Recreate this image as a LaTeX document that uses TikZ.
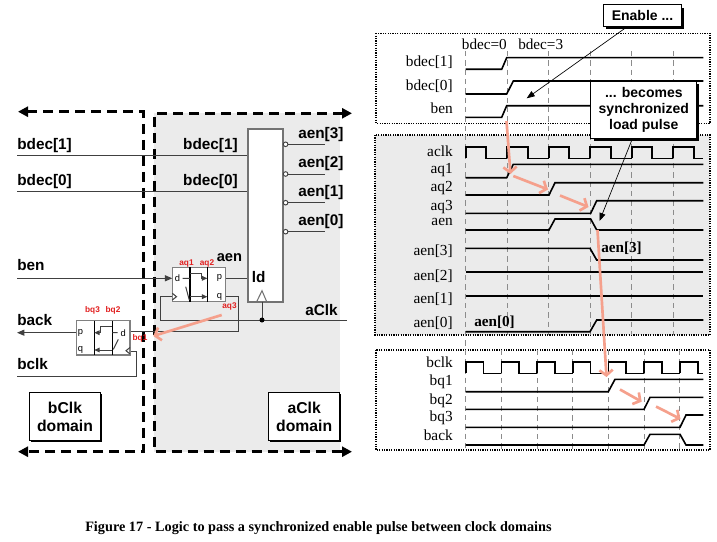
\documentclass[tikz,border=0pt]{standalone}
\usepackage{fontspec}
\setmainfont{Liberation Serif}
\setsansfont{Liberation Sans}
\usetikzlibrary{arrows.meta,shadows}
\definecolor{domgray}{RGB}{235,235,235}
\definecolor{salmon}{RGB}{245,160,140}
\definecolor{ffred}{RGB}{225,30,30}
\begin{document}
\begin{tikzpicture}[x=0.75pt,y=-0.75pt,
  domline/.style={line width=2.2pt,dash pattern=on 7.5pt off 4.5pt,
    {Triangle[length=7.5pt,width=7.5pt]}-{Triangle[length=7.5pt,width=7.5pt]}},
  panel/.style={line width=0.9pt,dash pattern=on 0.9pt off 0.9pt},
  gridln/.style={black!45,line width=0.8pt,dash pattern=on 4pt off 3pt},
  sig/.style={line width=1.2pt},
  wire/.style={line width=0.75pt,black!75},
  tip/.style={-{Triangle[length=4pt,width=3.5pt]}},
  lbl/.style={font=\sffamily\bfseries\fontsize{11.5}{13}\selectfont,inner sep=0pt,anchor=base west},
  tlbl/.style={font=\fontsize{11.5}{13}\selectfont,inner sep=0pt,anchor=base east},
  redlbl/.style={font=\sffamily\bfseries\fontsize{6.2}{7}\selectfont,text=ffred,inner sep=0pt},
  pin/.style={font=\sffamily\fontsize{7}{8}\selectfont,inner sep=0pt},
  hop/.style={salmon,line width=2pt,-{Straight Barb[length=4pt,width=10pt]}},
  ffbox/.style={draw=black!50,line width=0.8pt,fill=white},
  dombox/.style={draw,fill=white,line width=0.8pt,minimum width=53.5pt,minimum height=36pt,
    align=center,font=\sffamily\bfseries\fontsize{11.8}{13.7}\selectfont,
    drop shadow={shadow xshift=1.2pt,shadow yshift=-1.2pt,fill=black,opacity=1}},
  callout/.style={draw,fill=white,line width=0.8pt,align=center,inner sep=0pt,
    font=\sffamily\bfseries\fontsize{10.5}{12}\selectfont,
    drop shadow={shadow xshift=2pt,shadow yshift=-2pt,fill=black,opacity=1}},
  ]
\useasboundingbox (0,0) rectangle (717,542);

\fill[domgray] (154.3,113.3) rectangle (340,451.7);
\draw[domline] (18,111.7) -- (143.3,111.7) -- (143.3,451.7) -- (18,451.7);
\draw[domline] (352,113.3) -- (154.3,113.3) -- (154.3,451.7) -- (352,451.7);

\coordinate (b1in) at (17,155);
\coordinate (b0in) at (17,191.7);
\coordinate (benin) at (17,278.3);
\coordinate (backout) at (17,332.7);
\coordinate (bclkin) at (17,376.7);
\coordinate (b1dec) at (248.3,155);
\coordinate (b0dec) at (248.3,191.7);
\coordinate (ldin) at (248.3,278.3);
\coordinate (ad) at (172.3,278.3);
\coordinate (ap) at (225.7,278.3);
\coordinate (aq) at (225.7,296.7);
\coordinate (ack) at (172.3,296.7);
\coordinate (bd) at (130,331.7);
\coordinate (bp) at (76.7,332.7);
\coordinate (bck) at (130,351.7);
\coordinate (ckdot) at (262,320);

\draw[wire] (b1in) -- (b1dec);
\draw[wire] (b0in) -- (b0dec);
\draw[wire,-{Triangle[length=5.5pt,width=4.5pt]}] (benin) -- (ad);
\draw[wire] (ap) -- (ldin);
\draw[wire] (aq) -- ++(12.6,0) |- (bd);
\draw[wire] (ack) -- ++(-12.3,0) |- (347,320);
\draw[wire,-{Triangle[length=5.5pt,width=4.5pt]}] (bp) -- (backout);
\draw[wire] (bck) -- ++(6.7,0) |- (bclkin);

\draw[draw=black!55,line width=1.3pt,fill=white] (248.3,129.3) rectangle (283.3,301.7);
\draw[black!55,line width=0.8pt] (256.7,301.7) -- (262,290.7) -- (266.7,301.7);
\draw[wire] (262,301.7) -- (ckdot);
\fill (ckdot) circle (2.5);
\foreach \i/\y in {3/144.3,2/174,1/202.7,0/231.7} {
  \draw[black!75,line width=0.7pt,fill=white] (285.6,\y) circle (2.3);
  \draw[wire] (287.9,\y) -- (325,\y);
  \node[lbl] (aen\i) at (298,\y-6.3) {aen[\i]};
}

\draw[ffbox] (172.3,267.3) rectangle (225.7,301.7);
\draw[line width=1pt] (190,267.3) -- (190,301.7) (207.3,267.3) -- (207.3,301.7);
\node[pin] (apind) at (177.5,278.3) {d};
\node[pin] (apinp) at (219.5,278.3) {p};
\node[pin] (apinq) at (219.5,296.7) {q};
\draw[wire] (182.5,278.3) -- (190,278.3) (185.7,286.7) -- (189.3,300);
\draw[wire] (172.3,293.3) -- (176.5,296.7) -- (172.3,300);
\draw[wire,tip] (190,273.3) -- (201.7,273.3) -- (201.7,278.3) -- (207.3,278.3);
\draw[wire,tip] (190,296.7) -- (207.3,296.7);

\draw[ffbox] (76.7,320.7) rectangle (130,355);
\draw[line width=1pt] (94.3,320.7) -- (94.3,355) (112.3,320.7) -- (112.3,355);
\node[pin] (bpinp) at (80.5,332.7) {p};
\node[pin] (bpinq) at (80.5,350) {q};
\node[pin] (bpind) at (123.3,332.7) {d};
\draw[wire] (112.3,332.7) -- (117.5,332.7) (118.3,339.3) -- (113.3,349.3);
\draw[wire] (130,347.5) -- (126,350.7) -- (130,354);
\draw[wire,tip] (112.3,326.7) -- (100,326.7) -- (100,332.7) -- (94.3,332.7);
\draw[wire,tip] (112.3,350) -- (94.3,350);

\node[lbl] (lb1) at (17,149) {bdec[1]};
\node[lbl] (lb0) at (17,185.7) {bdec[0]};
\node[lbl,anchor=base east] (rb1) at (238,149) {bdec[1]};
\node[lbl,anchor=base east] (rb0) at (238,185.7) {bdec[0]};
\node[lbl] (lben) at (17,270.7) {ben};
\node[lbl] (lback) at (17,325) {back};
\node[lbl] (lbclk) at (17,369) {bclk};
\node[lbl,anchor=base east] (laclk) at (338,315) {aClk};
\node[lbl,font=\sffamily\bfseries\fontsize{11}{13}\selectfont] (laen) at (216.5,261.7) {aen};
\node[lbl] (lld) at (251.5,282.3) {ld};
\draw[hop] (221.7,315) -- (153.3,336);
\node[redlbl] (raq1) at (186.5,263.3) {aq1};
\node[redlbl] (raq2) at (207,263.3) {aq2};
\node[redlbl] (raq3) at (229.5,306.7) {aq3};
\node[redlbl] (rbq3) at (92.5,310) {bq3};
\node[redlbl] (rbq2) at (113,310) {bq2};
\node[redlbl] (rbq1) at (140,338.3) {bq1};

\node[dombox] (bdom) at (65,416.7) {bClk\\domain};
\node[dombox] (adom) at (304.2,416.7) {aClk\\domain};

\draw[panel] (376,33.3) rectangle (710,123.3);
\draw[panel,fill=domgray] (375,135) rectangle (710,335);
\draw[panel] (376,350) rectangle (710,450);
\foreach \k in {1,...,5} \draw[gridln] ({465.7+41.5*\k},51) -- ({465.7+41.5*\k},335);
\draw[gridln] (465.7,51) -- (465.7,450);
\foreach \k in {1,...,6} \draw[gridln] ({465.7+35.7*\k},350) -- ({465.7+35.7*\k},450);

\node[font=\fontsize{11.4}{13}\selectfont,inner sep=0pt,anchor=base west] (at0) at (461.7,50) {bdec=0};
\node[font=\fontsize{11.4}{13}\selectfont,inner sep=0pt,anchor=base west] (at3) at (518,50) {bdec=3};
\node[tlbl] (tb1) at (453,66) {bdec[1]};
\node[tlbl] (tb0) at (453,90) {bdec[0]};
\node[tlbl] (tben) at (453,113.3) {ben};
\draw[sig] (465.7,69.3) -- (501.7,69.3) -- (506.7,57.7) -- (703.3,57.7);
\draw[sig] (465.7,94) -- (506.7,94) -- (513.3,81) -- (703.3,81);
\draw[sig] (465.7,117.3) -- (501.7,117.3) -- (506.7,105.7) -- (703.3,105.7);

\node[tlbl] (taclk) at (453,156) {aclk};
\node[tlbl] (taq1) at (453,173.3) {aq1};
\node[tlbl] (taq2) at (453,191.7) {aq2};
\node[tlbl] (taq3) at (453,210) {aq3};
\node[tlbl] (taen) at (453,225) {aen};
\foreach \k in {0,...,4}
  \draw[sig] ({465.7+41.5*\k},158.3) -- ++(0,-11.6) -- ++(20.5,0) -- ++(0,11.6) -- ++(21,0);
\draw[sig] (673.2,158.3) -- ++(0,-11.6) -- ++(21,0) -- ++(0,11.6) -- (703.3,158.3);
\draw[sig] (465.7,177.7) -- (506.7,177.7) -- (513.3,164.3) -- (703.3,164.3);
\draw[sig] (465.7,195) -- (549,195) -- (555,182.7) -- (703.3,182.7);
\draw[sig] (465.7,213.3) -- (590.7,213.3) -- (596.7,200.7) -- (703.3,200.7);
\draw[sig] (465.7,230) -- (549,230) -- (555,219) -- (590.7,219) -- (596.7,230) -- (703.3,230);

\node[tlbl] (taen3) at (453,255) {aen[3]};
\node[tlbl] (taen2) at (453,280) {aen[2]};
\node[tlbl] (taen1) at (453,303.3) {aen[1]};
\node[tlbl] (taen0) at (453,327.7) {aen[0]};
\draw[sig] (465.7,248.3) -- (590,248.3) -- (596.7,260) -- (703.3,260);
\draw[sig] (465.7,271.7) -- (703.3,271.7);
\draw[sig] (465.7,296) -- (703.3,296);
\draw[sig] (465.7,331.7) -- (590,331.7) -- (596.7,320) -- (703.3,320);
\node[font=\bfseries\fontsize{11.4}{13}\selectfont,inner sep=0pt,anchor=base west] (tag3) at (601,252.5) {aen[3]};
\node[font=\bfseries\fontsize{11.4}{13}\selectfont,inner sep=0pt,anchor=base west] (tag0) at (474,326) {aen[0]};

\node[tlbl] (tbclk) at (453,367.3) {bclk};
\node[tlbl] (tbq1) at (453,385.7) {bq1};
\node[tlbl] (tbq2) at (453,404) {bq2};
\node[tlbl] (tbq3) at (453,421.7) {bq3};
\node[tlbl] (tback) at (453,440) {back};
\foreach \k in {0,...,5}
  \draw[sig] ({465.7+35.7*\k},373.3) -- ++(0,-11.6) -- ++(17.7,0) -- ++(0,11.6) -- ++(18,0);
\draw[sig] (680,373.3) -- ++(0,-11.6) -- ++(18,0) -- ++(0,11.6) -- (703.3,373.3);
\draw[sig] (465.7,391.7) -- (608.3,391.7) -- (615,379.3) -- (703.3,379.3);
\draw[sig] (465.7,409.3) -- (644,409.3) -- (650,397.3) -- (703.3,397.3);
\draw[sig] (465.7,427.3) -- (680,427.3) -- (686,415) -- (703.3,415);
\draw[sig] (465.7,445) -- (644,445) -- (650,434.3) -- (680,434.3) -- (686,445) -- (703.3,445);

\draw[hop] (506.5,121) -- (510.5,174);
\draw[hop] (513.3,176) -- (548,189.5);
\draw[hop] (560,195.5) -- (588.5,207);
\draw[hop] (597.5,230) -- (606.5,377);
\draw[hop] (620,389.5) -- (641.7,401.7);
\draw[hop] (656,406.5) -- (680.5,419);

\node[callout,minimum width=58.8pt,minimum height=16.3pt] (enable) at (642.5,15.8) {Enable ...};
\node[callout,minimum width=79.3pt,minimum height=42.5pt] (sync) at (643.8,110) {... becomes\\synchronized\\load pulse};
\coordinate (entgt) at (526.7,98.3);
\coordinate (synctgt) at (599.5,221);
\draw[line width=0.5pt,-{Triangle[length=6pt,width=4.5pt]}] (enable) -- (entgt);
\draw[line width=0.5pt,-{Triangle[length=6pt,width=4.5pt]}] (sync) -- (synctgt);

\node[font=\bfseries\fontsize{10.7}{12.5}\selectfont,inner sep=0pt,anchor=base west] (cap) at (85,531) {Figure 17 - Logic to pass a synchronized enable pulse between clock domains};
\end{tikzpicture}
\end{document}
